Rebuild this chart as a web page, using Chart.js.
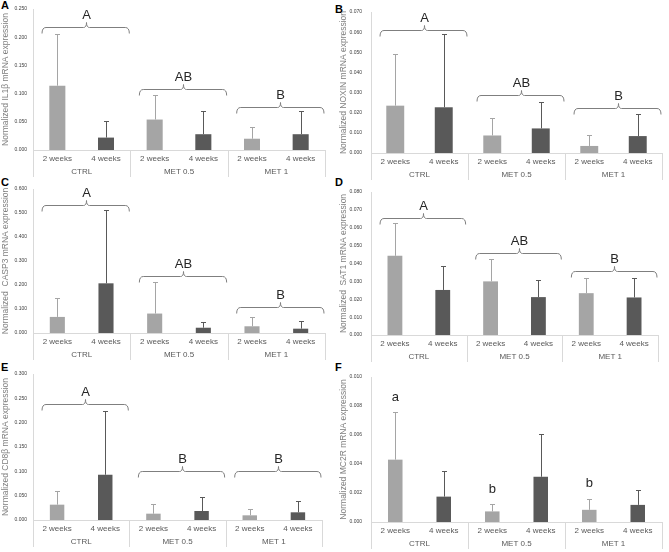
<!DOCTYPE html>
<html>
<head>
<meta charset="utf-8">
<script src="https://cdn.jsdelivr.net/npm/chart.js@4.4.0/dist/chart.umd.min.js"></script>
<style>
  body { margin: 0; background: #fff; width: 669px; height: 552px; position: relative; overflow: hidden; font-family: "Liberation Sans", Arial, sans-serif; }
  canvas { position: absolute; }
  .lt { position: absolute; font-weight: bold; font-size: 11px; line-height: 1; color: #000; }
</style>
</head>
<body>
<div class="lt" style="left:1px;top:0px">A</div>
<div class="lt" style="left:335px;top:4px">B</div>
<div class="lt" style="left:1px;top:177px">C</div>
<div class="lt" style="left:335px;top:177px">D</div>
<div class="lt" style="left:1px;top:362px">E</div>
<div class="lt" style="left:335px;top:362px">F</div>

<canvas id="cA" width="334" height="178" style="left:0;top:0"></canvas>
<canvas id="cB" width="335" height="181" style="left:334px;top:0"></canvas>
<canvas id="cC" width="334" height="181" style="left:0;top:180px"></canvas>
<canvas id="cD" width="335" height="183" style="left:334px;top:180px"></canvas>
<canvas id="cE" width="334" height="183" style="left:0;top:365px"></canvas>
<canvas id="cF" width="335" height="185" style="left:334px;top:365px"></canvas>

<script>
// categories
const weeks = ['2 weeks', '4 weeks', '2 weeks', '4 weeks', '2 weeks', '4 weeks'];
const groups = ['CTRL', 'MET 0.5', 'MET 1'];

// means and SD (upper error bar) per gene
const il1b = [0.114, 0.022, 0.054, 0.028, 0.020, 0.028];
const il1bSd = [0.091, 0.029, 0.044, 0.042, 0.020, 0.042];
const noxin = [0.0235, 0.0227, 0.0087, 0.0122, 0.0035, 0.0084];
const noxinSd = [0.0258, 0.0365, 0.0085, 0.0129, 0.0052, 0.0112];
const casp3 = [0.067, 0.207, 0.081, 0.022, 0.028, 0.018];
const casp3Sd = [0.079, 0.304, 0.130, 0.022, 0.039, 0.031];
const sat1 = [0.0443, 0.0252, 0.0300, 0.0212, 0.0234, 0.0210];
const sat1Sd = [0.0186, 0.0132, 0.0123, 0.0095, 0.0086, 0.0108];
const cd8b = [0.0315, 0.093, 0.013, 0.0185, 0.0096, 0.0158];
const cd8bSd = [0.0281, 0.1317, 0.019, 0.0281, 0.013, 0.0232];
const mc2r = [0.0043, 0.00175, 0.00073, 0.00312, 0.00084, 0.00118];
const mc2rSd = [0.0033, 0.0018, 0.0005, 0.00296, 0.00073, 0.00101];

// significance brackets (level in data units) and letters
const il1bBrace = [0.218, 0.108, 0.076];
const noxinBrace = [0.0609, 0.0286, 0.0223];
const casp3Brace = [0.535, 0.239, 0.108];
const sat1Brace = [0.0653, 0.046, 0.0359];
const cd8bBrace = [0.238, 0.100, 0.100];
const braceLetters = ['A', 'AB', 'B'];
const cd8bLetters = ['A', 'B', 'B'];
const mc2rLetterY = [0.0086, 0.00228, 0.00267];
const mc2rLetterIdx = [0, 2, 4];
const mc2rLetters = ['a', 'b', 'b'];

// y axis ranges
const yMax = [0.25, 0.07, 0.6, 0.08, 0.3, 0.01];
const yStep = [0.05, 0.01, 0.1, 0.01, 0.05, 0.002];

const colors = ['#a5a5a5', '#595959'];
const lineGray = '#d9d9d9';

const extras = {
  id: 'extras',
  afterDatasetsDraw(chart, args, o) {
    const { ctx, chartArea: a, scales: { x, y } } = chart;
    const meta = chart.getDatasetMeta(0);
    ctx.save();
    ctx.lineWidth = 1;
    // error bars
    meta.data.forEach((bar, i) => {
      const top = Math.round(y.getPixelForValue(o.values[i] + o.sd[i])) + 0.5;
      const bx = Math.round(bar.x) + 0.5;
      ctx.strokeStyle = colors[i % 2];
      ctx.beginPath();
      ctx.moveTo(bx, bar.y);
      ctx.lineTo(bx, top);
      ctx.moveTo(bx - 2.5, top);
      ctx.lineTo(bx + 2.5, top);
      ctx.stroke();
    });
    // axis separators + group labels
    const gw = (a.right - a.left) / 3;
    ctx.strokeStyle = lineGray;
    ctx.beginPath();
    ctx.moveTo(Math.round(a.left) + 0.5, a.top);
    ctx.lineTo(Math.round(a.left) + 0.5, a.bottom + 27);
    for (let k = 1; k <= 3; k++) {
      const sx = Math.round(a.left + k * gw) + 0.5;
      ctx.moveTo(sx, a.bottom);
      ctx.lineTo(sx, a.bottom + 27);
    }
    ctx.stroke();
    ctx.fillStyle = '#595959';
    ctx.font = '8px "Liberation Sans", Arial, sans-serif';
    ctx.textAlign = 'center';
    ctx.textBaseline = 'middle';
    groups.forEach((g, k) => ctx.fillText(g, a.left + (k + 0.5) * gw, a.bottom + 22));
    // brackets
    ctx.strokeStyle = '#7f7f7f';
    ctx.fillStyle = '#262626';
    ctx.font = '13px "Liberation Sans", Arial, sans-serif';
    if (o.brace) {
      o.brace.forEach((lv, k) => {
        const x0 = a.left + k * gw + 9, x1 = a.left + (k + 1) * gw - 1;
        const xm = Math.round((x0 + x1) / 2) + 0.5;
        const yy = Math.round(y.getPixelForValue(lv)) + 0.5;
        ctx.beginPath();
        ctx.moveTo(x0, yy + 6);
        ctx.quadraticCurveTo(x0, yy, x0 + 4, yy);
        ctx.lineTo(xm - 3, yy);
        ctx.quadraticCurveTo(xm, yy, xm, yy - 5);
        ctx.quadraticCurveTo(xm, yy, xm + 3, yy);
        ctx.lineTo(x1 - 4, yy);
        ctx.quadraticCurveTo(x1, yy, x1, yy + 6);
        ctx.stroke();
        ctx.textBaseline = 'alphabetic';
        ctx.fillText(o.letters[k], xm, yy - 9);
      });
    }
    if (o.marks) {
      ctx.textBaseline = 'middle';
      o.marks.forEach((v, k) => {
        ctx.fillText(o.letters[k], x.getPixelForValue(o.markIdx[k]), y.getPixelForValue(v));
      });
    }
    ctx.restore();
  }
};

function panel(id, p) {
  new Chart(document.getElementById(id), {
    type: 'bar',
    data: {
      labels: weeks,
      datasets: [{
        data: p.values,
        backgroundColor: weeks.map((w, i) => colors[i % 2]),
        barPercentage: p.barPct,
        categoryPercentage: 1
      }]
    },
    options: {
      responsive: false,
      animation: false,
      devicePixelRatio: 1,
      layout: { padding: { top: p.top, right: p.right, left: 0, bottom: 0 } },
      plugins: {
        legend: { display: false },
        tooltip: { enabled: false },
        extras: { values: p.values, sd: p.sd, brace: p.brace, letters: p.letters, marks: p.marks, markIdx: p.markIdx }
      },
      scales: {
        x: {
          grid: { display: false, drawTicks: false },
          border: { display: true, color: lineGray },
          ticks: { color: '#595959', font: { size: 8, family: '"Liberation Sans", Arial, sans-serif' }, padding: 4, maxRotation: 0, autoSkip: false },
          afterFit: s => { s.height = 28; }
        },
        y: {
          min: 0,
          max: p.max,
          grid: { display: false, drawTicks: false },
          border: { display: false },
          ticks: {
            stepSize: p.step,
            color: '#404040',
            font: { size: 5, family: '"Liberation Sans", Arial, sans-serif' },
            padding: p.yW === 33 ? 6 : 9,
            callback: v => v.toFixed(3)
          },
          title: {
            display: true,
            text: p.title,
            color: '#7f7f7f',
            font: { size: 8.5, family: '"Liberation Sans", Arial, sans-serif' },
            padding: { top: p.yW === 33 ? 1 : 5, bottom: 0 }
          },
          afterFit: s => { s.width = p.yW; }
        }
      }
    },
    plugins: [extras]
  });
}

panel('cA', { values: il1b, sd: il1bSd, brace: il1bBrace, letters: braceLetters, max: yMax[0], step: yStep[0], title: 'Normalized IL1β mRNA expression', top: 5, right: 9, yW: 33, barPct: 0.33 });
panel('cB', { values: noxin, sd: noxinSd, brace: noxinBrace, letters: braceLetters, max: yMax[1], step: yStep[1], title: 'Normalized NOXIN mRNA expression', top: 6, right: 7, yW: 37, barPct: 0.37 });
panel('cC', { values: casp3, sd: casp3Sd, brace: casp3Brace, letters: braceLetters, max: yMax[2], step: yStep[2], title: 'Normalized  CASP3 mRNA expression', top: 9, right: 9, yW: 33, barPct: 0.31 });
panel('cD', { values: sat1, sd: sat1Sd, brace: sat1Brace, letters: braceLetters, max: yMax[3], step: yStep[3], title: 'Normalized  SAT1 mRNA expression', top: 10, right: 11, yW: 37, barPct: 0.31 });
panel('cE', { values: cd8b, sd: cd8bSd, brace: cd8bBrace, letters: cd8bLetters, max: yMax[4], step: yStep[4], title: 'Normalized CD8β mRNA expression', top: 9, right: 12, yW: 33, barPct: 0.3 });
panel('cF', { values: mc2r, sd: mc2rSd, marks: mc2rLetterY, markIdx: mc2rLetterIdx, letters: mc2rLetters, max: yMax[5], step: yStep[5], title: 'Normalized MC2R mRNA expression', top: 11, right: 7, yW: 37, barPct: 0.3 });
</script>
</body>
</html>
